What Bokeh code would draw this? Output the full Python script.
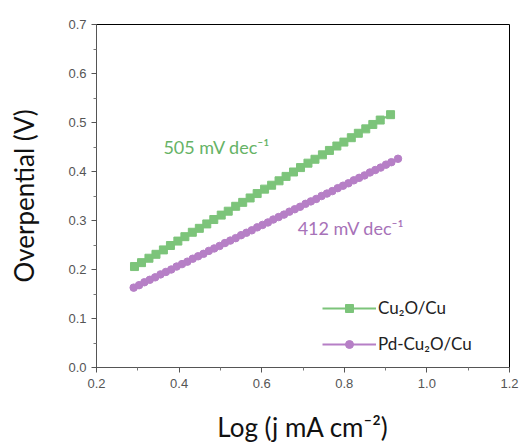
from bokeh.plotting import figure
from bokeh.models import Label, Legend, LegendItem, Range1d, FixedTicker, CustomJSTickFormatter
from bokeh.embed import file_html
from bokeh.resources import INLINE

# Cu2O/Cu
x_cu = [0.292, 0.309, 0.327, 0.344, 0.362, 0.379, 0.397, 0.414, 0.432, 0.449, 0.467, 0.484,
        0.502, 0.519, 0.537, 0.554, 0.572, 0.589, 0.607, 0.624, 0.642, 0.659, 0.677, 0.694,
        0.712, 0.729, 0.747, 0.764, 0.782, 0.799, 0.817, 0.834, 0.852, 0.869, 0.887, 0.912]
y_cu = [0.206, 0.214, 0.223, 0.231, 0.240, 0.249, 0.258, 0.267, 0.276, 0.284, 0.293, 0.302,
        0.311, 0.319, 0.329, 0.337, 0.346, 0.355, 0.364, 0.372, 0.381, 0.390, 0.399, 0.408,
        0.417, 0.425, 0.434, 0.443, 0.452, 0.460, 0.469, 0.478, 0.487, 0.496, 0.505, 0.516]
# Pd-Cu2O/Cu
x_pd = [0.290, 0.303, 0.316, 0.329, 0.342, 0.355, 0.368, 0.381, 0.394, 0.407, 0.420, 0.433,
        0.446, 0.459, 0.472, 0.485, 0.498, 0.511, 0.524, 0.537, 0.550, 0.563, 0.576, 0.589,
        0.602, 0.615, 0.628, 0.641, 0.654, 0.667, 0.680, 0.693, 0.706, 0.719, 0.732, 0.745,
        0.758, 0.771, 0.784, 0.797, 0.810, 0.823, 0.836, 0.849, 0.862, 0.875, 0.888, 0.901,
        0.914, 0.930]
y_pd = [0.163, 0.168, 0.174, 0.179, 0.184, 0.190, 0.195, 0.200, 0.206, 0.211, 0.216, 0.222,
        0.227, 0.232, 0.238, 0.243, 0.248, 0.254, 0.259, 0.264, 0.270, 0.275, 0.280, 0.286,
        0.291, 0.296, 0.302, 0.307, 0.312, 0.318, 0.323, 0.328, 0.334, 0.339, 0.344, 0.350,
        0.355, 0.360, 0.366, 0.371, 0.376, 0.382, 0.387, 0.392, 0.398, 0.403, 0.408, 0.414,
        0.419, 0.426]

series_names = ["Cu\u2082O/Cu", "Pd-Cu\u2082O/Cu"]
slope_labels = ["505 mV dec\u207b\u00b9", "412 mV dec\u207b\u00b9"]
x_ticks = [0.2, 0.4, 0.6, 0.8, 1.0, 1.2]
y_ticks = [0.0, 0.1, 0.2, 0.3, 0.4, 0.5, 0.6, 0.7]

GREEN = "#7cc47a"
PURPLE = "#b67fc6"
GREEN_TXT = "#66b366"
PURPLE_TXT = "#a772b8"

p = figure(width=523, height=445, output_backend="svg", toolbar_location=None,
           x_range=Range1d(0.2, 1.2), y_range=Range1d(0.0, 0.7),
           min_border_left=96, min_border_right=14, min_border_top=24, min_border_bottom=78)
p.xgrid.visible = False
p.ygrid.visible = False
p.outline_line_color = "black"
p.outline_line_width = 1
p.background_fill_color = "white"
p.border_fill_color = "white"

p.xaxis.ticker = FixedTicker(ticks=x_ticks, minor_ticks=[0.3, 0.5, 0.7, 0.9, 1.1])
p.yaxis.ticker = FixedTicker(ticks=y_ticks, minor_ticks=[0.05, 0.15, 0.25, 0.35, 0.45, 0.55, 0.65])
p.xaxis.formatter = CustomJSTickFormatter(code="return tick.toFixed(1);")
p.yaxis.formatter = CustomJSTickFormatter(code="return tick.toFixed(1);")

for ax in (p.xaxis[0], p.yaxis[0]):
    ax.axis_line_color = "#555555"
    ax.axis_line_width = 1
    ax.major_tick_line_color = "#555555"
    ax.minor_tick_line_color = "#777777"
    ax.major_tick_out = 5
    ax.major_tick_in = 0
    ax.minor_tick_out = 3
    ax.minor_tick_in = 0
    ax.major_label_text_font = "Liberation Sans"
    ax.major_label_text_font_size = "13px"
    ax.major_label_text_color = "#555555"
    ax.axis_label_text_font = "Lato"
    ax.axis_label_text_font_size = "26px"
    ax.axis_label_text_font_style = "normal"
    ax.axis_label_text_color = "#111111"

p.xaxis.axis_label = "Log (j mA cm\u207b\u00b2)"
p.yaxis.axis_label = "Overpential (V)"
p.xaxis.major_label_standoff = 6
p.yaxis.major_label_standoff = 5
p.xaxis.axis_label_standoff = 20
p.yaxis.axis_label_standoff = 25

l1 = p.line(x_cu, y_cu, line_color=GREEN, line_width=2)
s1 = p.scatter(x_cu, y_cu, marker="square", size=8, fill_color=GREEN, line_color=GREEN)
l2 = p.line(x_pd, y_pd, line_color=PURPLE, line_width=2)
s2 = p.scatter(x_pd, y_pd, marker="circle", size=7.5, fill_color=PURPLE, line_color=PURPLE)

p.add_layout(Label(x=0.362, y=0.451, text=slope_labels[0], text_color=GREEN_TXT,
                   text_font="Lato", text_font_size="18px", text_baseline="middle"))
p.add_layout(Label(x=0.687, y=0.284, text=slope_labels[1], text_color=PURPLE_TXT,
                   text_font="Lato", text_font_size="18px", text_baseline="middle"))

legend = Legend(items=[LegendItem(label=series_names[0], renderers=[l1, s1]),
                       LegendItem(label=series_names[1], renderers=[l2, s2])],
                location=(226, 13), padding=0, margin=0, spacing=15,
                glyph_width=54, glyph_height=20, label_height=20, label_standoff=2,
                label_text_font="Lato", label_text_font_size="17px",
                label_text_color="#222222", border_line_color=None,
                background_fill_alpha=0)
p.add_layout(legend)

open("out.html", "w").write(file_html(p, INLINE))
